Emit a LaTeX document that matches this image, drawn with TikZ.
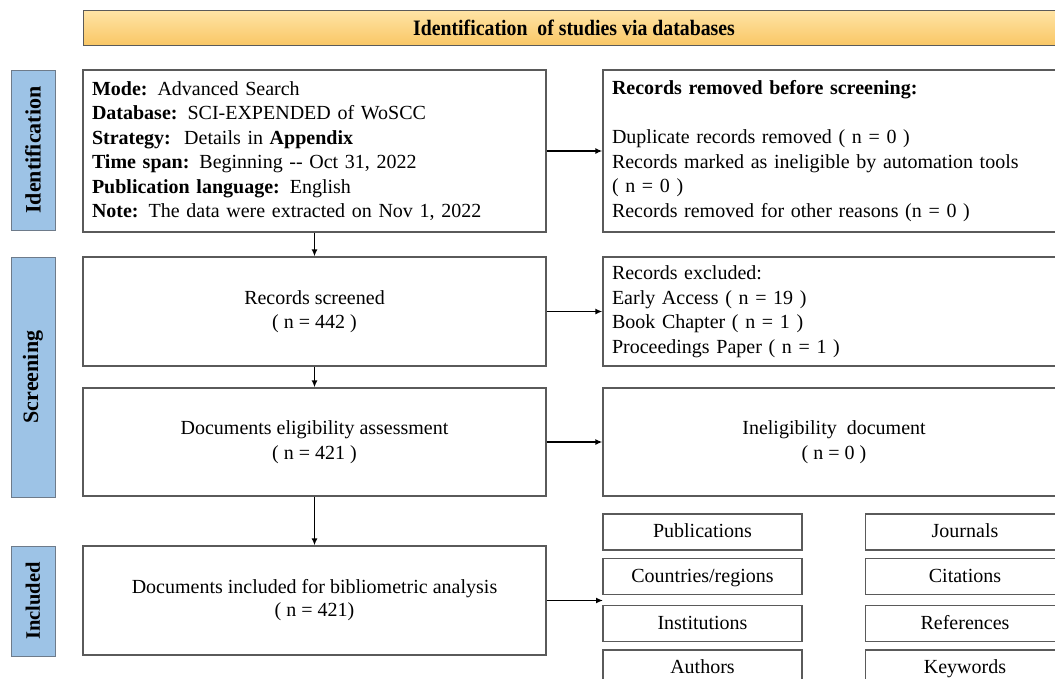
\documentclass[tikz,border=0pt]{standalone}
\usepackage{fontspec}
\setmainfont{Liberation Serif}
\usetikzlibrary{arrows.meta}
\definecolor{boxline}{HTML}{5A5A5A}
\definecolor{barfill}{HTML}{9DC3E6}
\definecolor{barline}{HTML}{6E7B8A}
\definecolor{bantop}{HTML}{FFE4A6}
\definecolor{banbot}{HTML}{F9C766}
\tikzset{
  mainbox/.style={draw=boxline, line width=1.3pt, fill=white, rectangle, inner sep=0pt,
    font=\fontsize{20}{24.5}\selectfont, align=center},
  leftbox/.style={mainbox, inner xsep=9pt, align=left},
  smallbox/.style={mainbox, minimum width=199pt, minimum height=36pt,
    text height=13.5pt, text depth=2pt},
  phasebar/.style={draw=barline, line width=1pt, fill=barfill, rectangle, inner sep=0pt,
    minimum width=44pt, font=\bfseries\fontsize{22}{24}\selectfont},
  conn/.style={draw=black, line width=1.4pt, -{Latex[length=7pt,width=6pt]}},
}
\begin{document}
\begin{tikzpicture}[x=1pt,y=-1pt]
\useasboundingbox (0,0) rectangle (1055,678);
\clip (0,0) rectangle (1055,678);
% banner
\node[draw=boxline, line width=1pt, top color=bantop, bottom color=banbot, rectangle,
  minimum width=982pt, minimum height=35pt, inner sep=0pt,
  font=\bfseries\fontsize{22}{24}\selectfont] (banner) at (574,27.5)
  {\scalebox{0.9}[1]{Identification\ \ of studies via databases}};
% phase bars
\node[phasebar, minimum height=160pt] (pid) at (33,150) {\rotatebox{90}{Identification}};
\node[phasebar, minimum height=240pt] (psc) at (33,377) {\rotatebox{90}{Screening}};
\node[phasebar, minimum height=110pt, font=\bfseries\fontsize{20.5}{22}\selectfont] (pin) at (33,601) {\rotatebox{90}{Included}};
% main column
\node[leftbox, text width=445pt, minimum height=162pt] (b1) at (314.5,151)
  {\textbf{Mode:} Advanced Search\\
   \textbf{Database:} SCI-EXPENDED of WoSCC\\
   \textbf{Strategy:}\ \ Details in \textbf{Appendix}\\
   \textbf{Time span:} Beginning {-}{-} Oct 31, 2022\\
   \textbf{Publication language:} English\\
   \textbf{Note:} The data were extracted on Nov 1, 2022};
\node[mainbox, minimum width=463pt, minimum height=109pt] (b2) at (314.5,311.5)
  {Records screened\\( n = 442 )};
\node[mainbox, minimum width=463pt, minimum height=108pt] (b3) at (314.5,442)
  {Documents eligibility assessment\\( n = 421 )};
\node[mainbox, minimum width=463pt, minimum height=109pt,
  font=\fontsize{20}{23}\selectfont] (b4) at (314.5,600.5)
  {Documents included for bibliometric analysis\\( n = 421)};
% right column
\node[leftbox, text width=444pt, minimum height=162pt] (r1) at (834,151)
  {\textbf{Records removed before screening:}\\[24.5pt]
   Duplicate records removed ( n = 0 )\\
   Records marked as ineligible by automation tools\\
   ( n = 0 )\\
   Records removed for other reasons (n = 0 )};
\node[leftbox, text width=444pt, minimum height=109pt] (r2) at (834,311.5)
  {Records excluded:\\
   Early Access ( n = 19 )\\
   Book Chapter ( n = 1 )\\
   Proceedings Paper ( n = 1 )};
\node[mainbox, minimum width=462pt, minimum height=108pt] (r3) at (834,442)
  {Ineligibility\ \ document\\( n = 0 )};
% output boxes
\node[smallbox] (s1) at (702.5,532) {Publications};
\node[smallbox] (s2) at (702.5,576.5) {Countries/regions};
\node[smallbox] (s3) at (702.5,623.5) {Institutions};
\node[smallbox] (s4) at (702.5,668) {Authors};
\node[smallbox] (t1) at (965,532) {Journals};
\node[smallbox] (t2) at (965,576.5) {Citations};
\node[smallbox] (t3) at (965,623.5) {References};
\node[smallbox] (t4) at (965,668) {Keywords};
\coordinate (outs) at (603,600.5);
% connectors
\draw[conn] (b1) -- (b2);
\draw[conn] (b2) -- (b3);
\draw[conn] (b3) -- (b4);
\draw[conn] (b1) -- (r1);
\draw[conn] (b2) -- (r2);
\draw[conn] (b3) -- (r3);
\draw[conn] (b4.east) -- (outs);
\end{tikzpicture}
\end{document}
